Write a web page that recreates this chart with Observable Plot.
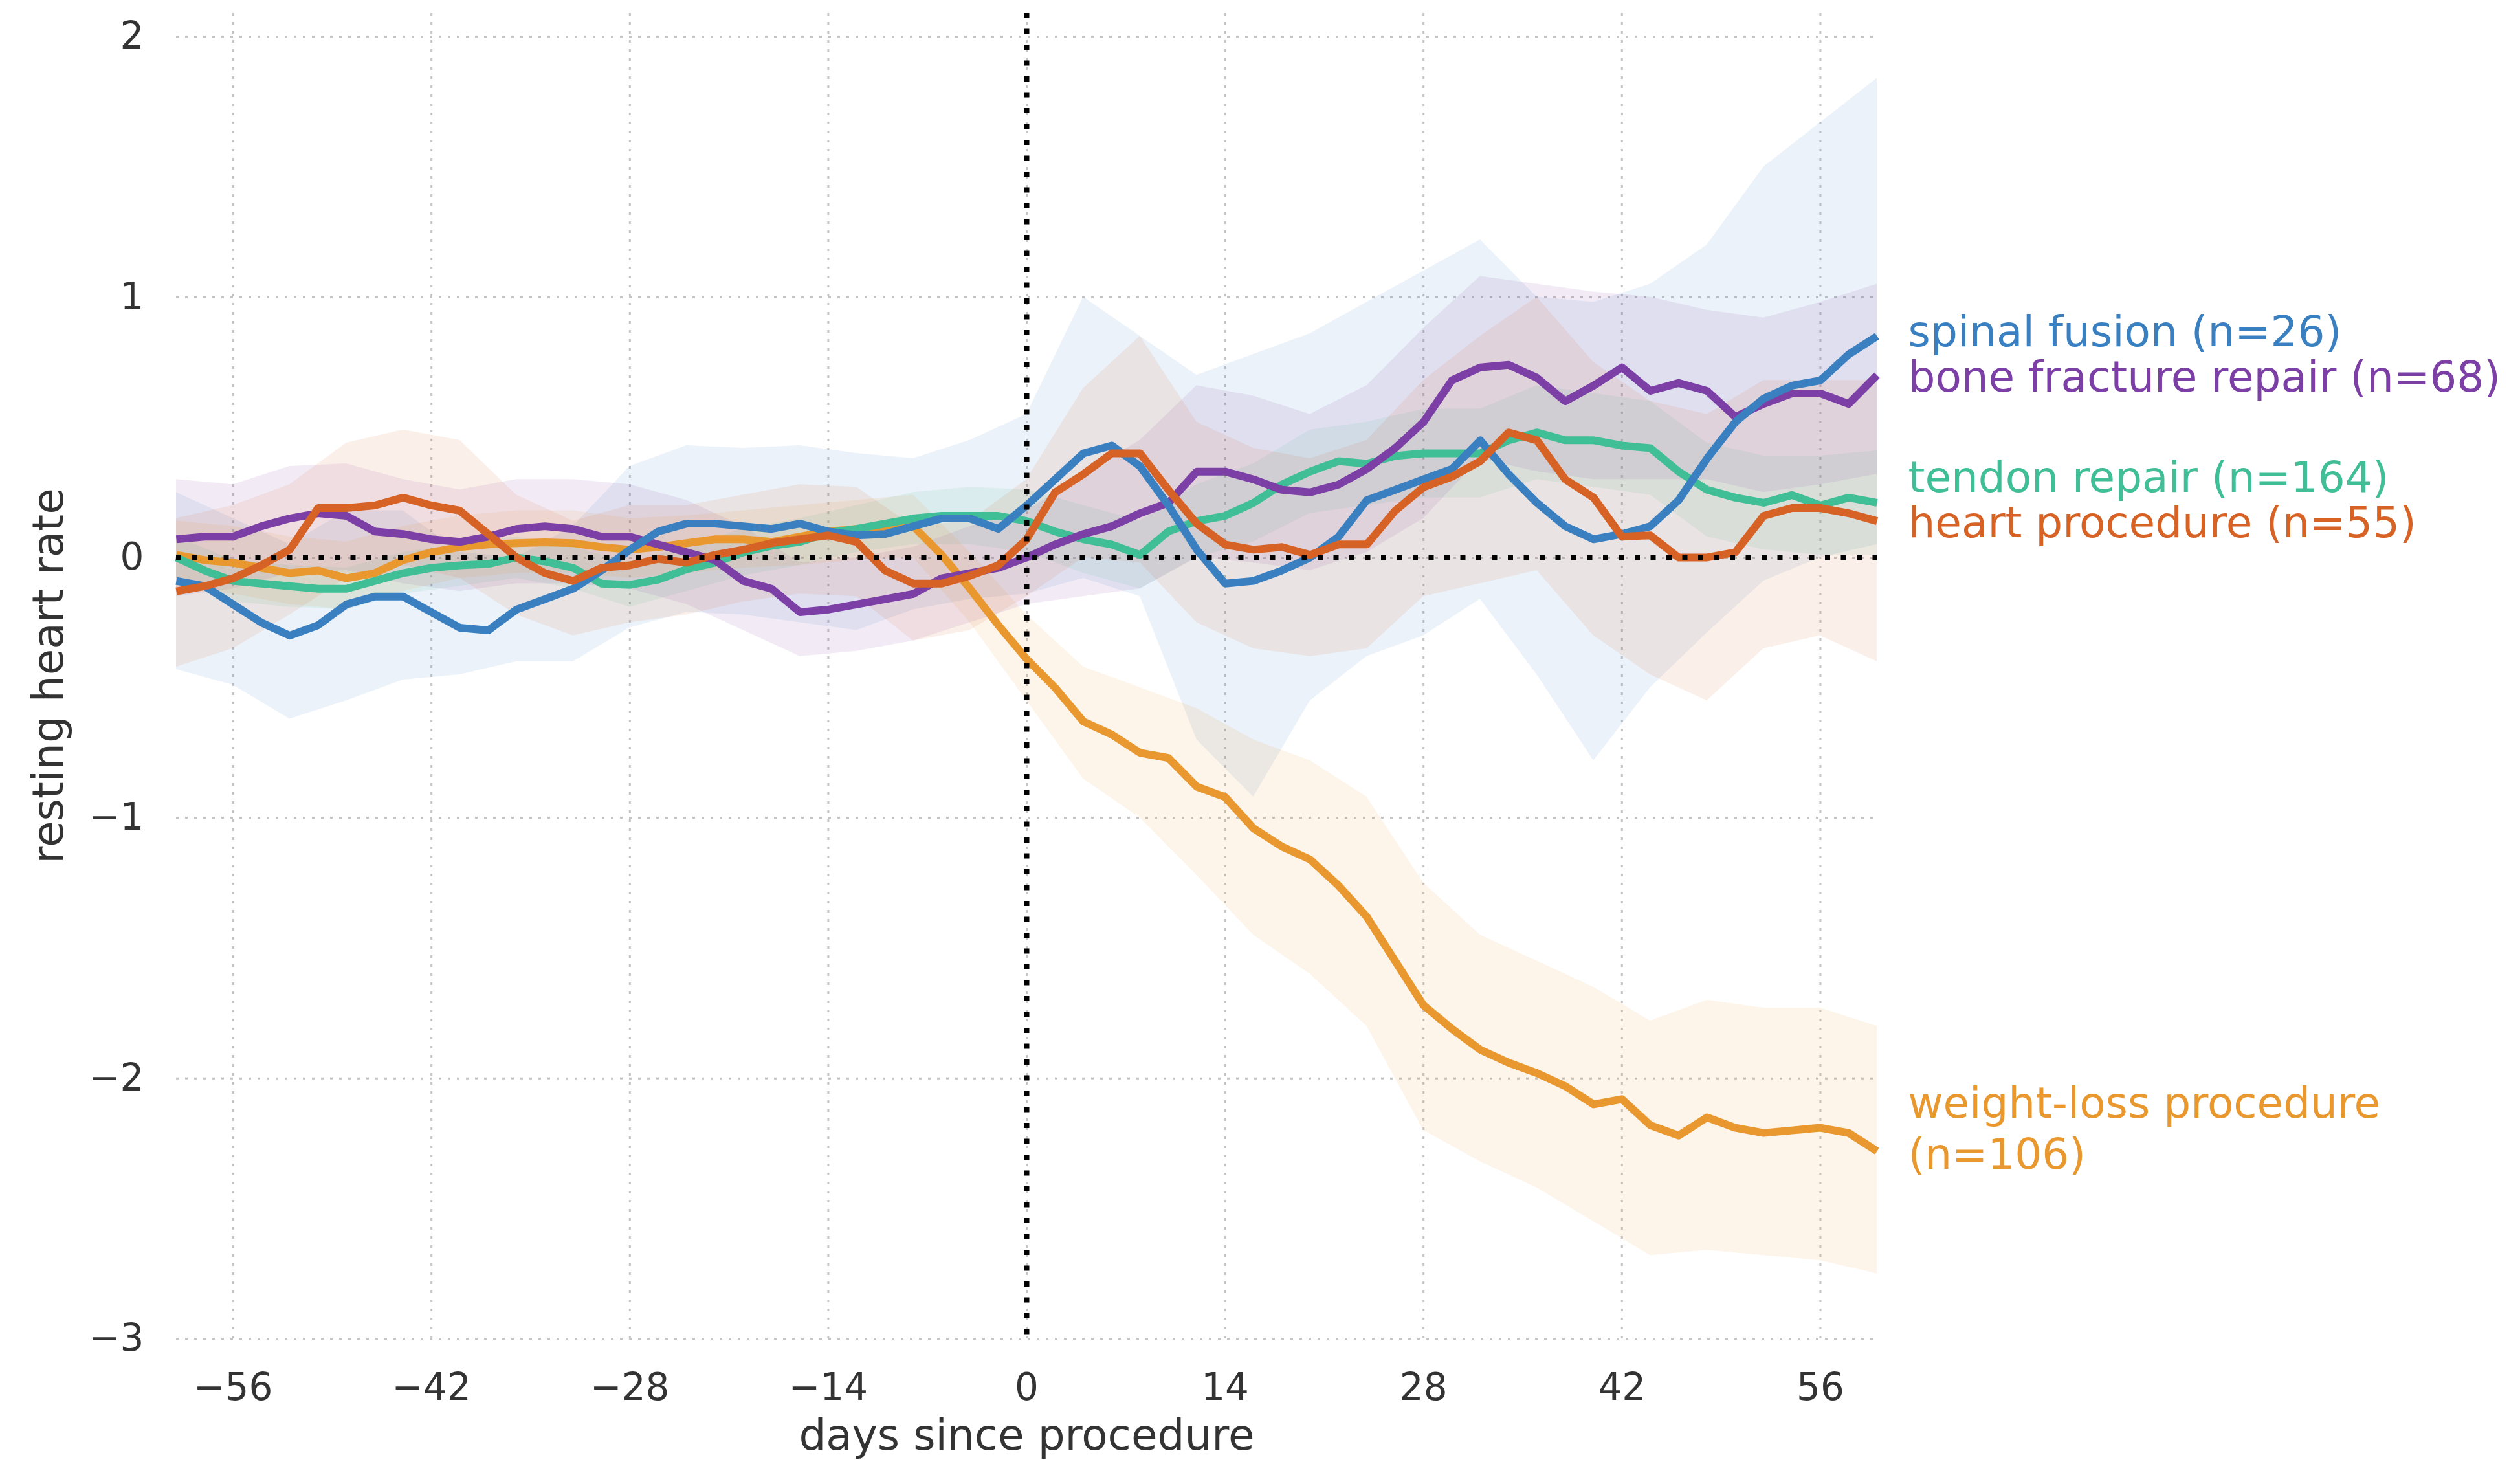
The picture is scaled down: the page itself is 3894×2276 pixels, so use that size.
<!DOCTYPE html>
<html>
<head>
<meta charset="utf-8">
<script src="https://cdn.jsdelivr.net/npm/d3@7"></script>
<script src="https://cdn.jsdelivr.net/npm/@observablehq/plot@0.6"></script>
<style>
  html, body { margin: 0; padding: 0; background: #fff; }
  #chart svg { display: block; }
</style>
</head>
<body>
<div id="chart"></div>
<script>
// ---------- data ----------
const seriesNames = ["spinal fusion", "bone fracture repair", "tendon repair", "heart procedure", "weight-loss procedure"];
const seriesCounts = [26, 68, 164, 55, 106];

const xTicks = [-56, -42, -28, -14, 0, 14, 28, 42, 56];
const yTicks = [-3, -2, -1, 0, 1, 2];

const days = [-60,-58,-56,-54,-52,-50,-48,-46,-44,-42,-40,-38,-36,-34,-32,-30,-28,-26,-24,-22,-20,-18,-16,-14,-12,-10,-8,-6,-4,-2,
  0,2,4,6,8,10,12,14,16,18,20,22,24,26,28,30,32,34,36,38,40,42,44,46,48,50,52,54,56,58,60];

const spinal = [-0.09,-0.11,-0.18,-0.25,-0.30,-0.26,-0.18,-0.15,-0.15,-0.21, -0.27,-0.28,-0.20,-0.16,-0.12,-0.05,0.03,0.10,0.13,0.13,
  0.12,0.11,0.13,0.10,0.085,0.09,0.12,0.15,0.15,0.11, 0.20,0.30,0.40,0.43,0.35,0.20,0.03,-0.10,-0.09,-0.05,
  0.0,0.08,0.22,0.26,0.30,0.34,0.45,0.32,0.21,0.12, 0.07,0.09,0.12,0.22,0.38,0.52,0.61,0.66,0.68,0.78, 0.85];
const bone = [0.07,0.08,0.08,0.12,0.15,0.17,0.16,0.10,0.09,0.07, 0.06,0.08,0.11,0.12,0.11,0.08,0.08,0.05,0.02,-0.01,
  -0.09,-0.12,-0.21,-0.20,-0.18,-0.16,-0.14,-0.08,-0.06,-0.04, 0.0,0.05,0.09,0.12,0.17,0.21,0.33,0.33,0.30,0.26,
  0.25,0.28,0.34,0.42,0.52,0.68,0.73,0.74,0.69,0.60, 0.66,0.73,0.64,0.67,0.64,0.54,0.59,0.63,0.63,0.59, 0.70];
const tendon = [0.0,-0.05,-0.09,-0.10,-0.11,-0.12,-0.12,-0.09,-0.06,-0.04, -0.03,-0.025,0.0,-0.015,-0.04,-0.10,-0.105,-0.085,-0.045,-0.02,
  0.02,0.045,0.06,0.095,0.11,0.13,0.15,0.16,0.16,0.16, 0.14,0.10,0.07,0.05,0.01,0.10,0.14,0.16,0.21,0.28,
  0.33,0.37,0.36,0.39,0.40,0.40,0.40,0.45,0.48,0.45, 0.45,0.43,0.42,0.33,0.26,0.23,0.21,0.24,0.20,0.23, 0.21];
const heart = [-0.13,-0.11,-0.08,-0.03,0.03,0.19,0.19,0.20,0.23,0.20, 0.18,0.09,0.0,-0.06,-0.09,-0.04,-0.03,-0.005,-0.02,0.01,
  0.03,0.055,0.07,0.085,0.06,-0.05,-0.10,-0.10,-0.07,-0.03, 0.07,0.25,0.32,0.40,0.40,0.26,0.13,0.05,0.03,0.04,
  0.01,0.05,0.05,0.18,0.27,0.31,0.37,0.48,0.45,0.30, 0.23,0.08,0.085,0.0,0.0,0.02,0.16,0.19,0.19,0.17, 0.14];
const weight = [0.01,-0.01,-0.02,-0.04,-0.06,-0.05,-0.08,-0.06,-0.01,0.02, 0.04,0.05,0.055,0.058,0.055,0.04,0.03,0.04,0.055,0.07,
  0.07,0.06,0.08,0.10,0.11,0.11,0.12,0.01,-0.12,-0.26, -0.39,-0.50,-0.63,-0.68,-0.75,-0.77,-0.88,-0.92,-1.04,-1.11,
  -1.16,-1.26,-1.38,-1.55,-1.72,-1.81,-1.89,-1.94,-1.98,-2.03, -2.10,-2.08,-2.18,-2.22,-2.15,-2.19,-2.21,-2.20,-2.19,-2.21, -2.28];

const bandDays = [-60,-56,-52,-48,-44,-40,-36,-32,-28,-24,-20,-16,-12,-8,-4,0,4,8,12,16,20,24,28,32,36,40,44,48,52,56,60];

const spinalLo = [-0.43,-0.49,-0.62,-0.55,-0.47,-0.45,-0.40,-0.40,-0.27,-0.21,-0.22,-0.25,-0.28,-0.20,-0.16,-0.14,-0.08,-0.15,-0.70,-0.92,-0.55,-0.38,-0.30,-0.16,-0.45,-0.78,-0.50,-0.29,-0.09,0.0,0.05];
const spinalHi = [0.25,0.15,0.05,0.18,0.18,0.02,0.0,0.12,0.35,0.43,0.42,0.43,0.40,0.38,0.45,0.55,1.0,0.85,0.70,0.78,0.86,0.98,1.10,1.22,1.00,0.98,1.05,1.20,1.50,1.67,1.84];
const boneLo = [-0.15,-0.12,-0.06,-0.05,-0.10,-0.13,-0.10,-0.10,-0.12,-0.18,-0.28,-0.38,-0.36,-0.32,-0.25,-0.18,-0.15,-0.12,0.0,-0.02,-0.05,0.02,0.15,0.38,0.33,0.30,0.30,0.30,0.25,0.28,0.32];
const boneHi = [0.30,0.28,0.35,0.36,0.30,0.26,0.30,0.30,0.28,0.22,0.12,-0.02,0.0,0.04,0.12,0.18,0.32,0.45,0.66,0.62,0.55,0.66,0.88,1.08,1.05,1.02,1.00,0.95,0.92,0.98,1.05];
const tendonLo = [-0.08,-0.17,-0.19,-0.20,-0.14,-0.11,-0.08,-0.12,-0.19,-0.13,-0.07,-0.03,0.02,0.05,0.05,0.02,-0.06,-0.12,0.0,0.06,0.17,0.20,0.23,0.23,0.30,0.27,0.24,0.08,0.03,0.01,0.01];
const tendonHi = [0.08,-0.01,-0.03,-0.04,0.02,0.05,0.08,0.04,-0.02,0.04,0.11,0.15,0.20,0.25,0.27,0.26,0.20,0.14,0.28,0.36,0.49,0.52,0.57,0.57,0.66,0.63,0.60,0.44,0.39,0.39,0.41];
const heartLo = [-0.42,-0.35,-0.22,-0.08,-0.03,-0.08,-0.22,-0.30,-0.25,-0.22,-0.17,-0.14,-0.15,-0.32,-0.28,-0.15,0.0,-0.02,-0.25,-0.35,-0.38,-0.35,-0.15,-0.10,-0.05,-0.30,-0.45,-0.55,-0.35,-0.30,-0.40];
const heartHi = [0.15,0.20,0.28,0.44,0.49,0.45,0.24,0.14,0.20,0.20,0.24,0.28,0.27,0.12,0.14,0.30,0.65,0.85,0.52,0.42,0.38,0.45,0.68,0.85,1.00,0.75,0.60,0.55,0.68,0.68,0.68];
const weightLo = [-0.12,-0.14,-0.18,-0.20,-0.13,-0.08,-0.06,-0.06,-0.08,-0.06,-0.04,-0.03,-0.01,0.0,-0.25,-0.55,-0.85,-1.00,-1.22,-1.45,-1.60,-1.80,-2.20,-2.32,-2.42,-2.55,-2.68,-2.66,-2.68,-2.70,-2.75];
const weightHi = [0.14,0.12,0.08,0.06,0.12,0.16,0.18,0.18,0.15,0.16,0.18,0.20,0.22,0.24,0.02,-0.22,-0.42,-0.50,-0.58,-0.70,-0.78,-0.92,-1.25,-1.45,-1.55,-1.65,-1.78,-1.70,-1.73,-1.73,-1.80];

// ---------- styling ----------
const colors = ["#3a80c0", "#7b3fa5", "#40be96", "#d66226", "#e8982e"];
const values = [spinal, bone, tendon, heart, weight];
const lows = [spinalLo, boneLo, tendonLo, heartLo, weightLo];
const highs = [spinalHi, boneHi, tendonHi, heartHi, weightHi];

const lineData = [];
const bandData = [];
seriesNames.forEach((name, s) => {
  days.forEach((d, i) => lineData.push({series: name, day: d, value: values[s][i]}));
  bandDays.forEach((d, i) => bandData.push({series: name, day: d, lo: lows[s][i], hi: highs[s][i]}));
});

// end labels, nudged apart when they would overlap
const lastVals = values.map(v => v[v.length - 1]);
const order = d3.range(seriesNames.length).sort((a, b) => lastVals[a] - lastVals[b]);
const labelY = [];
let prev = -Infinity;
for (const i of order) { labelY[i] = Math.max(lastVals[i], prev + 0.175); prev = labelY[i]; }
const labels = seriesNames.map((name, i) => ({
  i, y: labelY[i],
  text: name === "weight-loss procedure" ? `${name}\n(n=${seriesCounts[i]})` : `${name} (n=${seriesCounts[i]})`
}));

const fmt = d => d < 0 ? "\u2212" + Math.abs(d) : String(d);
const drawOrder = [4, 2, 1, 0, 3];

const marks = [
  Plot.ruleX(xTicks, {stroke: "#c4c4c4", strokeWidth: 3, strokeDasharray: "4,10"}),
  Plot.ruleY(yTicks, {stroke: "#c4c4c4", strokeWidth: 3, strokeDasharray: "4,10"})
];
seriesNames.forEach((name, s) => {
  marks.push(Plot.areaY(bandData.filter(d => d.series === name), {
    x: "day", y1: "lo", y2: "hi", fill: colors[s], fillOpacity: 0.1
  }));
});
drawOrder.forEach(s => {
  marks.push(Plot.line(lineData.filter(d => d.series === seriesNames[s]), {
    x: "day", y: "value", stroke: colors[s], strokeWidth: 12, strokeLinejoin: "round", strokeLinecap: "butt"
  }));
});
marks.push(Plot.ruleY([0], {stroke: "#000", strokeWidth: 8, strokeDasharray: "8,16.5"}));
marks.push(Plot.ruleX([0], {stroke: "#000", strokeWidth: 8, strokeDasharray: "8,16.5"}));
labels.forEach(l => {
  const multi = l.text.includes("\n");
  marks.push(Plot.text([l], {
    x: () => 60, y: "y", text: "text", fill: colors[l.i], fontSize: 66,
    textAnchor: "start", lineAnchor: "middle", lineHeight: 1.2, dx: 48, dy: multi ? -38 : 0
  }));
});
marks.push(Plot.text(["resting heart rate"], {frameAnchor: "left", textAnchor: "middle", lineAnchor: "middle", dx: -197, rotate: -90, fontSize: 66, fill: "#333"}));
marks.push(Plot.text(["days since procedure"], {frameAnchor: "bottom", textAnchor: "middle", lineAnchor: "middle", dy: 150, fontSize: 66, fill: "#333"}));

const chart = Plot.plot({
  width: 3894,
  height: 2276,
  marginLeft: 272,
  marginRight: 994,
  marginTop: 20,
  marginBottom: 208,
  style: {fontFamily: "'DejaVu Sans', sans-serif", fontSize: "58px", color: "#333", background: "#fff", overflow: "visible"},
  x: {domain: [-60, 60], ticks: xTicks, tickFormat: fmt, tickSize: 0, tickPadding: 53, label: null},
  y: {domain: [-3, 2.09], ticks: yTicks, tickFormat: fmt, tickSize: 0, tickPadding: 50, label: null},
  marks
});
document.getElementById("chart").appendChild(chart);
</script>
</body>
</html>
